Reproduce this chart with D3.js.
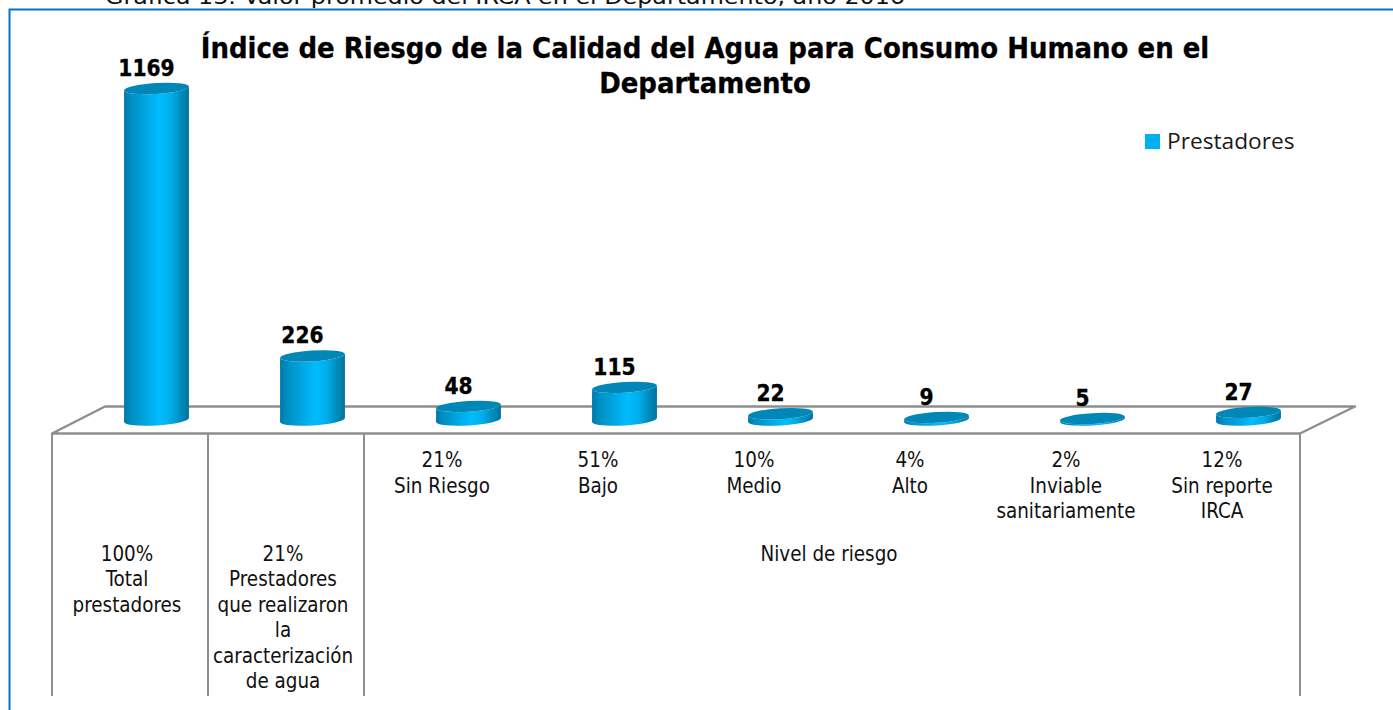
<!DOCTYPE html>
<html><head><meta charset="utf-8">
<script src="https://cdn.jsdelivr.net/npm/d3@7"></script>
<style>html,body{margin:0;padding:0;background:#fff;overflow:hidden}svg{display:block}</style>
</head><body><svg id="c" width="1393" height="710"></svg>
<script>
const categories = ["Total prestadores","Prestadores que realizaron la caracterización de agua","Sin Riesgo","Bajo","Medio","Alto","Inviable sanitariamente","Sin reporte IRCA"];
const values = [1169,226,48,115,22,9,5,27];
const percents = ["100%","21%","21%","51%","10%","4%","2%","12%"];
const tickLines = [
  ["100%","Total","prestadores"],
  ["21%","Prestadores","que realizaron","la","caracterización","de agua"],
  ["21%","Sin Riesgo"],["51%","Bajo"],["10%","Medio"],["4%","Alto"],
  ["2%","Inviable","sanitariamente"],["12%","Sin reporte","IRCA"]];
const groupLabel = "Nivel de riesgo";
const seriesName = "Prestadores";
const titleLines = ["Índice de Riesgo de la Calidad del Agua para Consumo Humano en el","Departamento"];
const caption = "Gráfica  13. Valor promedio del IRCA en el Departamento, año 2016";

const FONT = "'DejaVu Sans Condensed','DejaVu Sans',sans-serif";
const svg = d3.select("#c");
const x = d3.scaleBand().domain(d3.range(values.length)).range([52,1300]).padding(0);
const y = d3.scaleLinear().domain([0,1169]).range([420,88.5]);
const depth = 26;
const rx = 32.5, ry = 5.4, tilt = 3.5, rad = tilt*Math.PI/180;
const dx = rx*Math.cos(rad), dy = rx*Math.sin(rad);
const cx = i => x(i)+x.bandwidth()/2 + depth + 0.5;

const defs = svg.append("defs");
const g = defs.append("linearGradient").attr("id","body").attr("x1",0).attr("x2",1).attr("y1",0).attr("y2",0);
[[0,"#0079a8"],[0.12,"#0090c4"],[0.55,"#00bcff"],[0.72,"#00aee9"],[0.92,"#0083b0"],[1,"#00739b"]]
  .forEach(s=>g.append("stop").attr("offset",s[0]).attr("stop-color",s[1]));

// caption clipped by the page top
svg.append("text").attr("x",105).attr("y",4).attr("font-family",FONT).attr("font-size",20.5).attr("fill","#111")
  .attr("textLength",800).attr("lengthAdjust","spacingAndGlyphs").text(caption);

// frame
svg.append("path").attr("d","M9.5,710V9.5H1393").attr("fill","none").attr("stroke","#0a70c4").attr("stroke-width",2);

// floor
const grey="#8e8e8e";
svg.append("path").attr("d","M52,433.5L105,406.5H1355L1300,433.5Z").attr("fill","#fff").attr("stroke",grey).attr("stroke-width",2.4).attr("stroke-linejoin","round");
const seps=[0,1,2,8];
svg.selectAll("line.sep").data(seps).join("line").attr("class","sep")
  .attr("x1",d=>d===8?1300:x(d)).attr("x2",d=>d===8?1300:x(d))
  .attr("y1",433).attr("y2",696).attr("stroke",grey).attr("stroke-width",2);

// bars
const bars = svg.selectAll("g.bar").data(values).join("g").attr("class","bar");
bars.append("path").attr("fill","url(#body)").attr("d",(v,i)=>{
  const c=cx(i), b=y(0), t=y(v);
  return `M${c-dx},${t+dy}L${c-dx},${b+dy}A${rx},${ry} ${-tilt} 0 0 ${c+dx},${b-dy}L${c+dx},${t-dy}A${rx},${ry} ${-tilt} 0 1 ${c-dx},${t+dy}Z`;
});
bars.append("ellipse").attr("cx",(v,i)=>cx(i)).attr("cy",v=>y(v)).attr("rx",rx).attr("ry",ry)
  .attr("transform",(v,i)=>`rotate(${-tilt} ${cx(i)} ${y(v)})`).attr("fill","#0087b8");

// value labels
svg.selectAll("text.val").data(values).join("text").attr("class","val")
  .attr("x",(v,i)=>cx(i)-10).attr("y",v=>y(v)-12.5).attr("text-anchor","middle")
  .attr("font-family",FONT).attr("font-weight","bold").attr("font-size",22.5).attr("fill","#000")
  .attr("stroke","#000").attr("stroke-width",0.3).text(v=>v);

// category labels
const lineH=25.5;
tickLines.forEach((ls,i)=>{
  const top = i<2 ? 560.5 : 467;
  const c = x(i)+x.bandwidth()/2 - (i<2?3:0);
  ls.forEach((s,k)=>svg.append("text").attr("class","tick").attr("x",c).attr("y",top+k*lineH)
    .attr("text-anchor","middle").attr("font-family",FONT).attr("font-size",20.4).attr("fill","#111").text(s));
});
svg.append("text").attr("x",829).attr("y",560.5).attr("text-anchor","middle").attr("font-family",FONT).attr("font-size",20.4).attr("fill","#111").text(groupLabel);

// title
titleLines.forEach((s,k)=>svg.append("text").attr("x",705).attr("y",58+k*35).attr("text-anchor","middle")
  .attr("font-family",FONT).attr("font-weight","bold").attr("font-size",28.9).attr("fill","#000")
  .attr("stroke","#000").attr("stroke-width",0.3).text(s));

// legend
svg.append("rect").attr("x",1145).attr("y",134).attr("width",15).attr("height",15).attr("fill","#00b0f0");
svg.append("text").attr("x",1167).attr("y",149).attr("font-family","'Open Sans',sans-serif").attr("font-size",22.7).attr("fill","#1a1a1a").text(seriesName);
</script></body></html>
